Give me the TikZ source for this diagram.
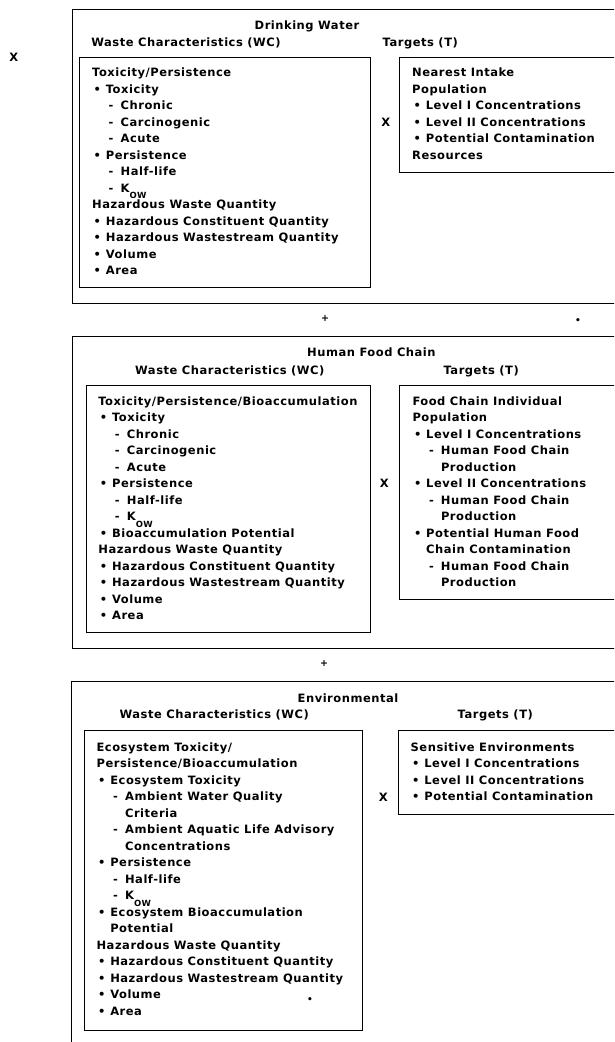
\documentclass[tikz,border=0pt]{standalone}
\usepackage{fontspec}
\newfontfamily\dmfont{DejaVu Sans}[LetterSpace=4.5]
\tikzset{
  txt/.style={font=\dmfont\bfseries\fontsize{11.5}{14}\selectfont, inner sep=0pt, anchor=base west},
  sym/.style={font=\dmfont\bfseries\fontsize{11.5}{14}\selectfont, inner sep=0pt, anchor=center},
  frame/.style={draw=black, line width=1pt},
}
\newcommand\bx{0}
\newcommand\by{0}
\newcommand\tlH[3]{\node[txt] (#1) at (\bx, \by+#2*16.5) {#3};}
\newcommand\tlB[3]{\node[txt] (#1) at (\bx+1.5, \by+#2*16.5) {\makebox[12.2pt][l]{•}#3};}
\newcommand\tlS[3]{\node[txt] (#1) at (\bx+16.5, \by+#2*16.5) {\makebox[12pt][l]{-}#3};}
\newcommand\tlC[3]{\node[txt] (#1) at (\bx+13.7, \by+#2*16.5) {#3};}
\newcommand\tlD[3]{\node[txt] (#1) at (\bx+28.5, \by+#2*16.5) {#3};}
\newcommand\kow{K\raisebox{-6.5pt}{\fontsize{8.5}{9}\selectfont OW}}
\begin{document}
\begin{tikzpicture}[x=1pt, y=-1pt]
\useasboundingbox (0,0) rectangle (614,1042);
\clip (0,0) rectangle (614,1042);

% ---------------- frames ----------------
\draw[frame] (72,9.5) rectangle (640,303.5);
\draw[frame] (79.5,57.7) rectangle (370.8,287.7);
\draw[frame] (399.5,57) rectangle (640,172.3);
\draw[frame] (72,336.5) rectangle (640,648);
\draw[frame] (86.5,385.5) rectangle (370,632.7);
\draw[frame] (399.2,385) rectangle (640,599.3);
\draw[frame] (71,681.5) rectangle (640,1060);
\draw[frame] (84.7,730.7) rectangle (362,1030);
\draw[frame] (398.5,730) rectangle (640,814);

% ---------------- marks ----------------
\node[sym] (xleft) at (13.7,57.3) {X};
\node[sym] (x1) at (385.7,122.3) {X};
\node[sym] (x2) at (384.4,483.3) {X};
\node[sym] (x3) at (383.3,797.3) {X};
\node[sym, font=\dmfont\bfseries\fontsize{9.5}{10}\selectfont] (p1) at (325,319) {+};
\node[sym, font=\dmfont\bfseries\fontsize{9.5}{10}\selectfont] (p2) at (324,663.5) {+};
\node[sym, font=\dmfont\bfseries\fontsize{9}{9}\selectfont] (d1) at (578,321) {•};
\node[sym, font=\dmfont\bfseries\fontsize{9}{9}\selectfont] (d2) at (310,1000) {•};

% ---------------- box 1 : Drinking Water ----------------
\node[txt] (t1) at (254.5,29) {Drinking Water};
\node[txt] (wc1) at (91.2,46) {Waste Characteristics (WC)};
\node[txt] (tg1) at (382.5,46) {Targets (T)};

\renewcommand\bx{92}\renewcommand\by{76.7}
\tlH{a0}{0}{Toxicity/Persistence}
\tlB{a1}{1}{Toxicity}
\tlS{a2}{2}{Chronic}
\tlS{a3}{3}{Carcinogenic}
\tlS{a4}{4}{Acute}
\tlB{a5}{5}{Persistence}
\tlS{a6}{6}{Half-life}
\tlS{a7}{7}{\kow}
\tlH{a8}{8}{Hazardous Waste Quantity}
\tlB{a9}{9}{Hazardous Constituent Quantity}
\tlB{a10}{10}{Hazardous Wastestream Quantity}
\tlB{a11}{11}{Volume}
\tlB{a12}{12}{Area}

\renewcommand\bx{412}\renewcommand\by{76.7}
\tlH{b0}{0}{Nearest Intake}
\tlH{b1}{1}{Population}
\tlB{b2}{2}{Level I Concentrations}
\tlB{b3}{3}{Level II Concentrations}
\tlB{b4}{4}{Potential Contamination}
\tlH{b5}{5}{Resources}

% ---------------- box 2 : Human Food Chain ----------------
\node[txt] (t2) at (307,356.3) {Human Food Chain};
\node[txt] (wc2) at (135,374) {Waste Characteristics (WC)};
\node[txt] (tg2) at (443.4,374) {Targets (T)};

\renewcommand\bx{98.2}\renewcommand\by{405}
\tlH{c0}{0}{Toxicity/Persistence/Bioaccumulation}
\tlB{c1}{1}{Toxicity}
\tlS{c2}{2}{Chronic}
\tlS{c3}{3}{Carcinogenic}
\tlS{c4}{4}{Acute}
\tlB{c5}{5}{Persistence}
\tlS{c6}{6}{Half-life}
\tlS{c7}{7}{\kow}
\tlB{c8}{8}{Bioaccumulation Potential}
\tlH{c9}{9}{Hazardous Waste Quantity}
\tlB{c10}{10}{Hazardous Constituent Quantity}
\tlB{c11}{11}{Hazardous Wastestream Quantity}
\tlB{c12}{12}{Volume}
\tlB{c13}{13}{Area}

\renewcommand\bx{412.3}\renewcommand\by{405}
\tlH{d0}{0}{Food Chain Individual}
\tlH{d1}{1}{Population}
\tlB{d2}{2}{Level I Concentrations}
\tlS{d3}{3}{Human Food Chain}
\tlD{d4}{4}{Production}
\tlB{d5}{5}{Level II Concentrations}
\tlS{d6}{6}{Human Food Chain}
\tlD{d7}{7}{Production}
\tlB{d8}{8}{Potential Human Food}
\tlC{d9}{9}{Chain Contamination}
\tlS{d10}{10}{Human Food Chain}
\tlD{d11}{11}{Production}

% ---------------- box 3 : Environmental ----------------
\node[txt] (t3) at (297.5,702.3) {Environmental};
\node[txt] (wc3) at (119.4,718) {Waste Characteristics (WC)};
\node[txt] (tg3) at (457.5,718) {Targets (T)};

\renewcommand\bx{96.4}\renewcommand\by{751.3}
\tlH{e0}{0}{Ecosystem Toxicity/}
\tlH{e1}{1}{Persistence/Bioaccumulation}
\tlB{e2}{2}{Ecosystem Toxicity}
\tlS{e3}{3}{Ambient Water Quality}
\tlD{e4}{4}{Criteria}
\tlS{e5}{5}{Ambient Aquatic Life Advisory}
\tlD{e6}{6}{Concentrations}
\tlB{e7}{7}{Persistence}
\tlS{e8}{8}{Half-life}
\tlS{e9}{9}{\kow}
\tlB{e10}{10}{Ecosystem Bioaccumulation}
\tlC{e11}{11}{Potential}
\tlH{e12}{12}{Hazardous Waste Quantity}
\tlB{e13}{13}{Hazardous Constituent Quantity}
\tlB{e14}{14}{Hazardous Wastestream Quantity}
\tlB{e15}{15}{Volume}
\tlB{e16}{16}{Area}

\renewcommand\bx{410.5}\renewcommand\by{751.3}
\tlH{f0}{0}{Sensitive Environments}
\tlB{f1}{1}{Level I Concentrations}
\tlB{f2}{2}{Level II Concentrations}
\tlB{f3}{3}{Potential Contamination}
\end{tikzpicture}
\end{document}
